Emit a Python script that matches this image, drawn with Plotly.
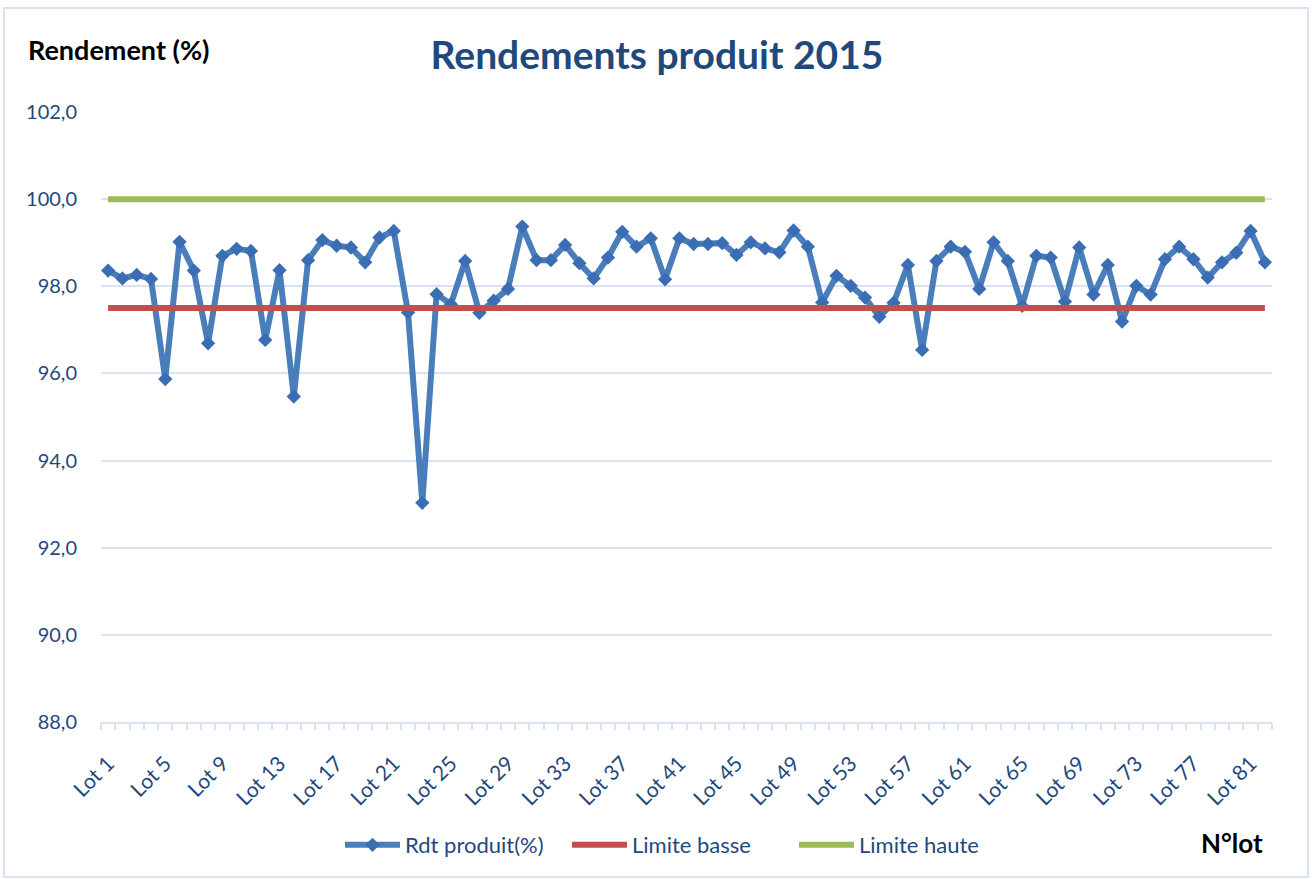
import plotly.graph_objects as go

lots = [f"Lot {i}" for i in range(1, 83)]
rdt = [98.36, 98.18, 98.26, 98.17, 95.87, 99.02, 98.36, 96.69, 98.70, 98.86,
       98.81, 96.77, 98.37, 95.47, 98.60, 99.06, 98.93, 98.89, 98.55, 99.12,
       99.27, 97.40, 93.03, 97.82, 97.59, 98.58, 97.39, 97.67, 97.94, 99.37,
       98.60, 98.60, 98.95, 98.53, 98.18, 98.66, 99.25, 98.91, 99.10, 98.16,
       99.10, 98.97, 98.97, 98.99, 98.72, 99.01, 98.87, 98.78, 99.28, 98.91,
       97.63, 98.24, 98.01, 97.74, 97.30, 97.62, 98.49, 96.54, 98.58, 98.91,
       98.79, 97.94, 99.01, 98.58, 97.55, 98.70, 98.66, 97.65, 98.89, 97.81,
       98.49, 97.19, 98.01, 97.81, 98.62, 98.91, 98.62, 98.20, 98.55, 98.77,
       99.27, 98.55]
limite_basse = 97.5
limite_haute = 100.0
y_ticks = [88, 90, 92, 94, 96, 98, 100, 102]

pos = list(range(1, len(lots) + 1))
tick_pos = pos[::4]
tick_text = lots[::4]
boundaries = [p - 0.5 for p in pos] + [pos[-1] + 0.5]

NAVY = "#1F497D"
GRID = "#D9E2F3"
FONT = "Lato"

fig = go.Figure()
fig.add_trace(go.Scatter(
    x=pos, y=rdt, mode="lines+markers", name="Rdt produit(%)",
    line=dict(color="#4A7EBB", width=6),
    marker=dict(symbol="diamond", size=11, color="#3A6DB3"),
))
fig.add_trace(go.Scatter(
    x=pos, y=[limite_basse] * len(lots), mode="lines", name="Limite basse",
    line=dict(color="#C0504D", width=6),
))
fig.add_trace(go.Scatter(
    x=pos, y=[limite_haute] * len(lots), mode="lines", name="Limite haute",
    line=dict(color="#9BBB59", width=6),
))

L, R, T, B = 101, 42, 112, 157
W, H = 1314, 879
pw, ph = W - L - R, H - T - B

def px_x(x):
    return (x - L) / pw

def px_y(y):
    return (H - B - y) / ph

xrange_ = [0.5, len(lots) + 0.5]

fig.update_layout(
    width=W, height=H,
    margin=dict(l=L, r=R, t=T, b=B, autoexpand=False),
    paper_bgcolor="white", plot_bgcolor="white",
    separators=", ",
    font=dict(family=FONT, color=NAVY, size=20),
    title=dict(text="<b>Rendements produit 2015</b>", x=0.5, xref="container",
               y=1 - 55 / H, yanchor="middle",
               font=dict(family=FONT, size=39, color=NAVY)),
    showlegend=True,
    legend=dict(orientation="h", x=px_x(340), xanchor="left",
                y=px_y(845), yanchor="middle",
                font=dict(family=FONT, size=22, color=NAVY),
                itemwidth=55, entrywidth=157, entrywidthmode="pixels",
                bgcolor="rgba(0,0,0,0)", tracegroupgap=0),
    xaxis=dict(
        range=xrange_, automargin=False,
        tickvals=tick_pos, ticktext=tick_text, tickangle=-45,
        ticks="", showgrid=False, zeroline=False,
        showline=True, linecolor=GRID, linewidth=2,
        tickfont=dict(family=FONT, size=21, color=NAVY),
        ticklabelstandoff=19,
    ),
    xaxis2=dict(
        range=xrange_, overlaying="x", anchor="y", side="bottom",
        tickvals=boundaries, ticks="outside", ticklen=7, tickcolor=GRID,
        tickwidth=1.5, showticklabels=False, showgrid=False,
        zeroline=False, showline=False, automargin=False,
    ),
    yaxis=dict(
        range=[88, 102], tickvals=y_ticks, tickformat=".1f", automargin=False,
        showgrid=True, gridcolor=GRID, gridwidth=2,
        zeroline=False, showline=False, ticks="",
        tickfont=dict(family=FONT, size=20, color=NAVY),
        ticklabelstandoff=23,
    ),
    annotations=[
        dict(text="<b>Rendement (%)</b>", xref="paper", yref="paper",
             x=px_x(26), y=px_y(50), xanchor="left", yanchor="middle",
             showarrow=False, font=dict(family=FONT, size=27, color="black")),
        dict(text="<b>N°lot</b>", xref="paper", yref="paper",
             x=px_x(1265), y=px_y(843), xanchor="right", yanchor="middle",
             showarrow=False, font=dict(family=FONT, size=26, color="black")),
    ],
    shapes=[
        dict(type="rect", xref="paper", yref="paper",
             x0=px_x(4), x1=px_x(1308), y0=px_y(877), y1=px_y(8),
             line=dict(color=GRID, width=2), fillcolor="rgba(0,0,0,0)",
             layer="below"),
    ],
)

# invisible trace to activate the tick axis
fig.add_trace(go.Scatter(x=[pos[0]], y=[rdt[0]], xaxis="x2", mode="markers",
                         marker=dict(opacity=0), showlegend=False,
                         hoverinfo="skip"))

fig.write_html("out.html",
               config={"displayModeBar": False},
               post_script="document.body.style.margin='0';"
                           "document.body.style.overflow='hidden';")
